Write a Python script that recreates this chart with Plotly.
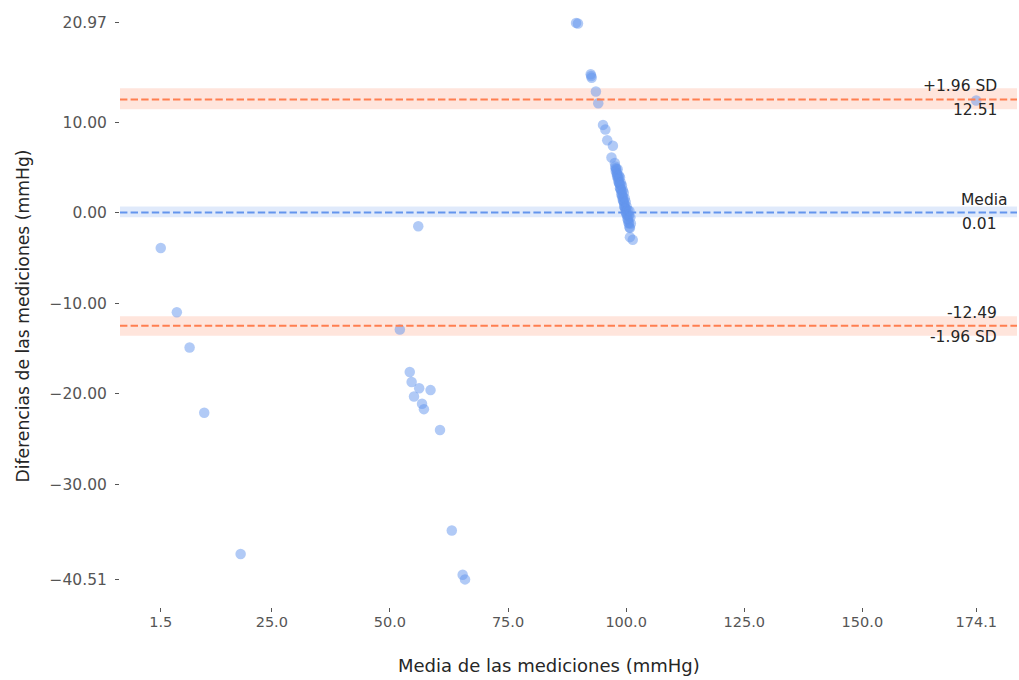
import plotly.graph_objects as go

# Data: mean of measurements (x) and difference (y)
mean_vals = [
    1.5, 4.9, 7.6, 10.7, 18.4,
    52.1, 54.2, 54.6, 55.1, 56.0, 56.2, 56.8, 57.2, 58.6, 60.6, 63.1, 65.4, 65.9,
    89.4, 89.8, 92.5, 92.6, 92.7, 93.6, 94.1, 95.1, 95.6, 96.0, 97.2, 96.9,
    97.6, 97.7, 97.8, 97.8, 97.9, 98.0, 98.1, 98.1, 98.2, 98.3, 98.4, 98.4, 98.5,
    98.6, 98.7, 98.7, 98.8, 98.9, 99.0, 99.0, 99.1, 99.2, 99.3, 99.3, 99.4, 99.5,
    99.6, 99.6, 99.7, 99.8, 99.9, 99.9, 100.0, 100.1, 100.2, 100.3, 100.4, 100.5,
    100.6, 100.7, 100.8,
    98.2, 98.5, 98.7, 98.9, 99.1, 99.3, 99.5, 99.7, 99.9, 100.1, 100.3, 100.5, 100.6,
    100.7, 100.9, 101.0,
    100.8, 101.4,
    174.1,
]
diff_vals = [
    -3.9, -11.0, -14.9, -22.1, -37.7,
    -12.9, -17.6, -18.7, -20.3, -1.5, -19.4, -21.1, -21.7, -19.6, -24.0, -35.1, -40.0, -40.51,
    20.97, 20.9, 15.3, 15.1, 14.9, 13.4, 12.1, 9.7, 9.2, 8.0, 7.4, 6.1,
    5.5, 5.1, 4.9, 4.6, 4.8, 4.3, 4.4, 4.0, 4.1, 3.7, 3.8, 3.4, 3.3,
    3.2, 3.1, 2.7, 2.6, 2.6, 2.4, 2.0, 2.1, 1.7, 1.8, 1.4, 1.3, 1.2,
    1.0, 0.7, 0.6, 0.5, 0.4, 0.1, 0.0, -0.2, -0.3, -0.7, -0.8, -1.1,
    -1.2, -1.6, -1.7,
    4.8, 4.1, 3.9, 3.3, 3.0, 2.5, 2.2, 1.6, 1.2, 0.7, 0.3, -0.2, -0.4,
    0.2, -0.5, -1.2,
    -2.7, -3.0,
    12.4,
]

mean_diff = 0.01
upper_loa = 12.51
lower_loa = -12.49
mean_ci = [-0.5, 0.7]
upper_ci = [11.44, 13.75]
lower_ci = [-13.6, -11.44]

x_tickvals = [1.5, 25.0, 50.0, 75.0, 100.0, 125.0, 150.0, 174.1]
x_ticktext = ["1.5", "25.0", "50.0", "75.0", "100.0", "125.0", "150.0", "174.1"]
y_tickvals = [20.97, 10.0, 0.0, -10.0, -20.0, -30.0, -40.51]
y_ticktext = ["20.97", "10.00", "0.00", "\u221210.00", "\u221220.00", "\u221230.00", "\u221240.51"]

x_title = "Media de las mediciones (mmHg)"
y_title = "Diferencias de las mediciones (mmHg)"

BLUE = "#6495ED"
CORAL = "#FF7F50"
FONT = "DejaVu Sans"

fig = go.Figure()
fig.add_trace(go.Scatter(
    x=mean_vals, y=diff_vals, mode="markers",
    marker=dict(color=BLUE, opacity=0.5, size=10.5, line=dict(width=0)),
    hoverinfo="skip", showlegend=False,
))

# confidence bands
for (lo, hi), col in [(mean_ci, "rgba(100,149,237,0.2)"),
                      (upper_ci, "rgba(255,127,80,0.2)"),
                      (lower_ci, "rgba(255,127,80,0.2)")]:
    fig.add_shape(type="rect", xref="paper", yref="y", x0=0, x1=1, y0=lo, y1=hi,
                  fillcolor=col, line=dict(width=0), layer="below")

# limit lines
for val, col in [(mean_diff, BLUE), (upper_loa, CORAL), (lower_loa, CORAL)]:
    fig.add_shape(type="line", xref="paper", yref="y", x0=0, x1=1, y0=val, y1=val,
                  line=dict(color=col, width=2, dash="7.4px,3.2px"), layer="above")

ann_font = dict(family=FONT, size=15.5, color="#262626")
labels = [
    (upper_loa, "+1.96 SD", f"{upper_loa:.2f}", 0),
    (mean_diff, "Media", f"{mean_diff:.2f}", 11),
    (lower_loa, f"{lower_loa:.2f}", "-1.96 SD", 0),
]
for val, above, below, xs in labels:
    fig.add_annotation(xref="paper", yref="y", x=0.98, y=val, text=above,
                       xanchor="right", yanchor="bottom", showarrow=False,
                       font=ann_font, yshift=2, xshift=xs)
    fig.add_annotation(xref="paper", yref="y", x=0.98, y=val, text=below,
                       xanchor="right", yanchor="top", showarrow=False,
                       font=ann_font, yshift=0)

# axis titles (placed as in the reference)
fig.add_annotation(xref="paper", yref="paper", x=(549 - 120) / 897, y=-(665 - 607) / 607,
                   text=x_title, showarrow=False, xanchor="center", yanchor="middle",
                   font=dict(family=FONT, size=18, color="#262626"))
fig.add_annotation(xref="paper", yref="paper", x=-(120 - 22) / 897, y=1 - 316.5 / 607,
                   text=y_title, showarrow=False, xanchor="center", yanchor="middle",
                   textangle=-90, font=dict(family=FONT, size=17.2, color="#262626"))

fig.update_layout(
    width=1019, height=680,
    margin=dict(l=120, r=2, t=0, b=73),
    paper_bgcolor="white", plot_bgcolor="white",
    font=dict(family=FONT, color="#262626"),
    showlegend=False,
)
fig.update_xaxes(
    range=[-7.13, 182.73], tickvals=x_tickvals, ticktext=x_ticktext,
    showgrid=False, zeroline=False, showline=False,
    ticks="outside", ticklen=4, tickwidth=1, tickcolor="#555555",
    ticklabelstandoff=-2,
    tickfont=dict(family=FONT, size=14.5, color="#555555"),
)
fig.update_yaxes(
    range=[-43.56, 23.5], tickvals=y_tickvals, ticktext=y_ticktext,
    showgrid=False, zeroline=False, showline=False,
    ticks="outside", ticklen=4, tickwidth=1, tickcolor="#555555",
    ticklabelstandoff=5,
    tickfont=dict(family=FONT, size=15.5, color="#555555"),
)

fig.write_html("out.html")
